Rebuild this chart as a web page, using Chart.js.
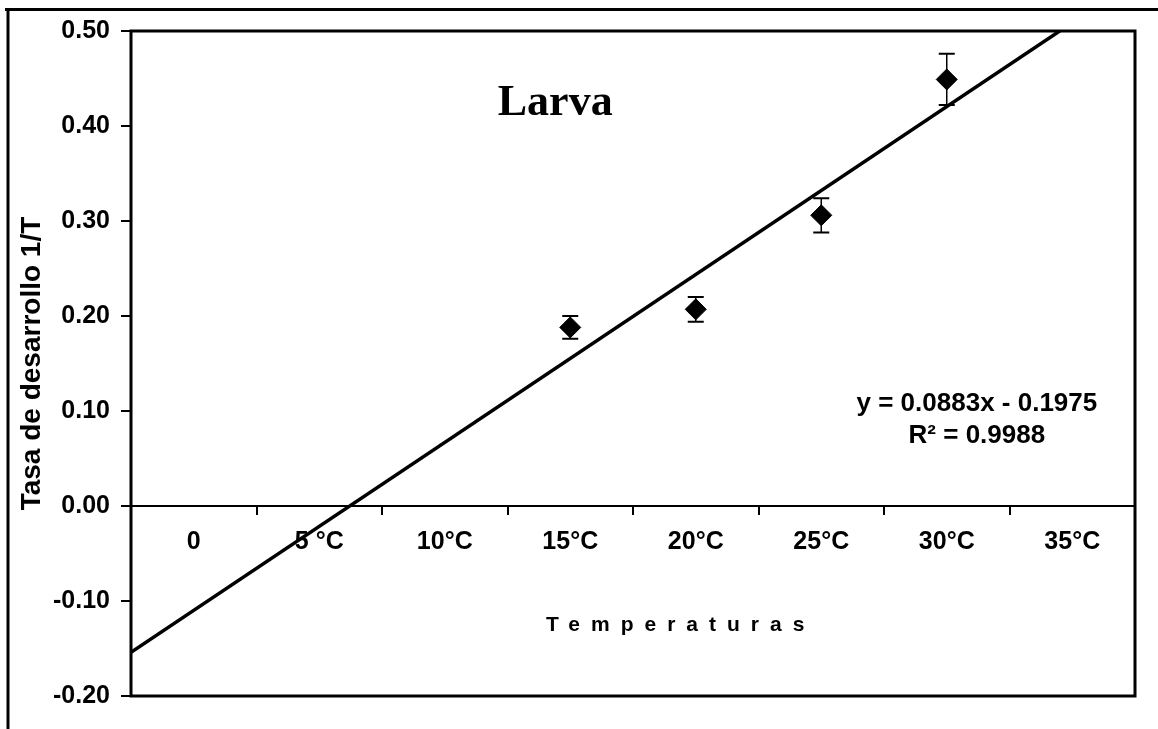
<!DOCTYPE html>
<html>
<head>
<meta charset="utf-8">
<script src="https://cdn.jsdelivr.net/npm/chart.js@4.4.1/dist/chart.umd.min.js"></script>
<style>
  html, body { margin: 0; padding: 0; background: #fff; }
</style>
</head>
<body>
<canvas id="larvaChart" width="1158" height="729"></canvas>
<script>
// categorias del eje X (posicion 1..8)
const temperatures = ['0', '5 °C', '10°C', '15°C', '20°C', '25°C', '30°C', '35°C'];
// puntos medidos (indice de categoria, tasa 1/T, error)
const pointX = [4, 5, 6, 7];
const rates = [0.188, 0.207, 0.306, 0.449];
const errors = [0.012, 0.013, 0.018, 0.027];
// extremos de la linea de tendencia
const trendX = [0.5, 8.5];
const trendY = [-0.154, 0.553];
const yTicks = [-0.2, -0.1, 0, 0.1, 0.2, 0.3, 0.4, 0.5];

const FONT = '"Liberation Sans", Arial, sans-serif';

const framePlugin = {
  id: 'frame',
  beforeDraw(chart) {
    const ctx = chart.ctx;
    ctx.save();
    ctx.fillStyle = '#fff';
    ctx.fillRect(0, 0, chart.width, chart.height);
    ctx.strokeStyle = '#000';
    ctx.lineWidth = 3;
    ctx.beginPath();
    ctx.moveTo(5, 9.5);
    ctx.lineTo(chart.width, 9.5);
    ctx.moveTo(8, 8);
    ctx.lineTo(8, chart.height);
    ctx.stroke();
    ctx.restore();
  },
  afterDatasetsDraw(chart) {
    const a = chart.chartArea;
    const ctx = chart.ctx;
    ctx.save();
    ctx.strokeStyle = '#000';
    ctx.lineWidth = 3;
    ctx.strokeRect(a.left, a.top, a.right - a.left, a.bottom - a.top);
    ctx.restore();
  }
};

const errorBarPlugin = {
  id: 'errorBars',
  beforeDatasetsDraw(chart) {
    const {ctx, scales: {x, y}} = chart;
    ctx.save();
    ctx.strokeStyle = '#000';
    pointX.forEach((px, i) => {
      const cx = x.getPixelForValue(px);
      const top = y.getPixelForValue(rates[i] + errors[i]);
      const bot = y.getPixelForValue(rates[i] - errors[i]);
      ctx.lineWidth = 1.5;
      ctx.beginPath();
      ctx.moveTo(cx, top);
      ctx.lineTo(cx, bot);
      ctx.stroke();
      ctx.lineWidth = 2;
      ctx.beginPath();
      ctx.moveTo(cx - 8, top);
      ctx.lineTo(cx + 8, top);
      ctx.moveTo(cx - 8, bot);
      ctx.lineTo(cx + 8, bot);
      ctx.stroke();
    });
    ctx.restore();
  }
};

const textPlugin = {
  id: 'texts',
  afterDraw(chart) {
    const {ctx, scales: {x, y}} = chart;
    ctx.save();
    ctx.fillStyle = '#000';
    ctx.textAlign = 'center';
    ctx.textBaseline = 'middle';

    ctx.font = 'bold 44px "Liberation Serif", "Times New Roman", serif';
    ctx.fillText('Larva', x.getPixelForValue(3.88), y.getPixelForValue(0.424));

    ctx.font = 'bold 26px ' + FONT;
    ctx.fillText('y = 0.0883x - 0.1975', x.getPixelForValue(7.24), y.getPixelForValue(0.108));
    ctx.fillText('R² = 0.9988', x.getPixelForValue(7.24), y.getPixelForValue(0.074));

    ctx.font = 'bold 21px ' + FONT;
    ctx.letterSpacing = '11px';
    ctx.fillText('Temperaturas', x.getPixelForValue(4.84) + 5, y.getPixelForValue(-0.125));
    ctx.restore();
  }
};

new Chart(document.getElementById('larvaChart'), {
  type: 'line',
  data: {
    datasets: [
      {
        label: 'Larva',
        data: pointX.map((v, i) => ({x: v, y: rates[i]})),
        showLine: false,
        pointStyle: 'rectRot',
        pointRadius: 10.5,
        backgroundColor: '#000',
        borderColor: '#000',
        borderWidth: 1
      },
      {
        label: 'Lineal',
        data: trendX.map((v, i) => ({x: v, y: trendY[i]})),
        borderColor: '#000',
        borderWidth: 3.5,
        pointRadius: 0,
        fill: false
      }
    ]
  },
  options: {
    responsive: false,
    animation: false,
    layout: { padding: { top: 31, right: 23, bottom: 33, left: 0 } },
    plugins: {
      legend: { display: false },
      tooltip: { enabled: false }
    },
    scales: {
      x: {
        type: 'linear',
        min: 0.5,
        max: 8.5,
        position: { y: 0 },
        afterBuildTicks: s => { s.ticks = temperatures.map((_, i) => ({value: i + 1})); },
        afterFit: s => { s.height = 0; },
        grid: { drawOnChartArea: false, drawTicks: false },
        border: { display: true, color: '#000', width: 2 },
        ticks: {
          autoSkip: false,
          maxRotation: 0,
          padding: 21,
          color: '#000',
          font: { family: FONT, size: 25, weight: 'bold' },
          callback: v => temperatures[v - 1]
        }
      },
      xt: {
        type: 'linear',
        axis: 'x',
        min: 0.5,
        max: 8.5,
        position: { y: 0 },
        afterBuildTicks: s => { s.ticks = temperatures.slice(1).map((_, i) => ({value: i + 1.5})); },
        afterFit: s => { s.height = 0; },
        grid: { drawOnChartArea: false, drawTicks: true, tickLength: 9, lineWidth: 2, color: '#000' },
        border: { display: false },
        ticks: { display: false }
      },
      y: {
        type: 'linear',
        min: -0.2,
        max: 0.5,
        position: 'left',
        afterBuildTicks: s => { s.ticks = yTicks.map(v => ({value: v})); },
        afterFit: s => { s.width = 131; },
        grid: { drawOnChartArea: false, tickLength: 10, lineWidth: 2, color: '#000' },
        border: { display: false },
        ticks: {
          padding: 11,
          color: '#000',
          font: { family: FONT, size: 25, weight: 'bold' },
          callback: v => v.toFixed(2)
        },
        title: {
          display: true,
          text: 'Tasa de desarrollo 1/T',
          color: '#000',
          padding: { top: 15, bottom: 0 },
          font: { family: FONT, size: 28, weight: 'bold' }
        }
      }
    }
  },
  plugins: [framePlugin, errorBarPlugin, textPlugin]
});
</script>
</body>
</html>
